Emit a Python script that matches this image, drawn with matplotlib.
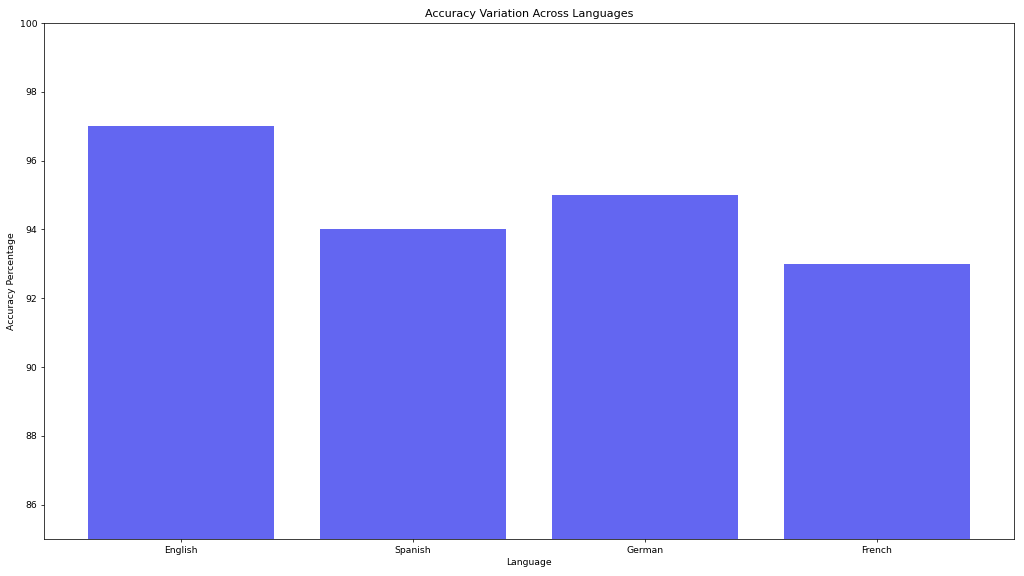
import matplotlib
matplotlib.use("Agg")
import matplotlib.pyplot as plt

languages = ["English", "Spanish", "German", "French"]
accuracy = [97, 94, 95, 93]

DPI = 200 / 3
fig, ax = plt.subplots(figsize=(1024 / DPI, 576 / DPI), dpi=DPI)
ax.bar(languages, accuracy, color="#6366F1", width=0.8)
ax.set_ylim(85, 100)
ax.set_title("Accuracy Variation Across Languages")
ax.set_xlabel("Language")
ax.set_ylabel("Accuracy Percentage")
fig.subplots_adjust(left=0.043, right=0.990, top=0.960, bottom=0.064)
fig.savefig("out.png", dpi=DPI)
